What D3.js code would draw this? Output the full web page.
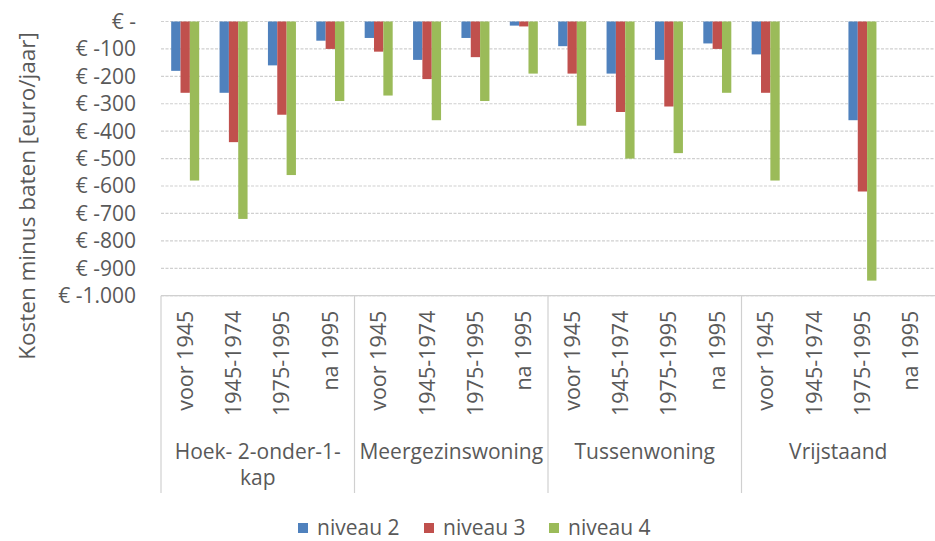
<!DOCTYPE html>
<html><head><meta charset="utf-8">
<script src="https://cdn.jsdelivr.net/npm/d3@7"></script>
<style>body{margin:0;background:#fff}svg{display:block}text{font-family:"Open Sans",sans-serif;fill:#595959}</style>
</head><body><svg id="c" width="935" height="541"></svg>
<script>
const groups = ["Hoek- 2-onder-1-kap", "Meergezinswoning", "Tussenwoning", "Vrijstaand"];
const periods = ["voor 1945", "1945-1974", "1975-1995", "na 1995"];
const seriesNames = ["niveau 2", "niveau 3", "niveau 4"];
const niveau2 = [-180, -260, -160, -70, -60, -140, -60, -15, -90, -190, -140, -80, -120, null, -360, null];
const niveau3 = [-260, -440, -340, -100, -110, -210, -130, -18, -190, -330, -310, -100, -260, null, -620, null];
const niveau4 = [-580, -720, -560, -290, -270, -360, -290, -190, -380, -500, -480, -260, -580, null, -945, null];
const yTicks = [0, -100, -200, -300, -400, -500, -600, -700, -800, -900, -1000];
const colors = ["#4f81bd", "#c0504d", "#9bbb59"];

const svg = d3.select("#c");
const L = 161, R = 935, T = 21.5, B = 295.7;
const keys = [];
groups.forEach((g, gi) => periods.forEach((p, pi) => keys.push({g, p, gi, pi, k: gi + "|" + pi})));
const values = [niveau2, niveau3, niveau4];

const x0 = d3.scaleBand().domain(keys.map(d => d.k)).range([L, R]);
const bw = x0.bandwidth();
const x1 = d3.scaleBand().domain(seriesNames).range([(bw - 28) / 2, (bw + 28) / 2]);
const y = d3.scaleLinear().domain([-1000, 0]).range([B, T]);

// gridlines
svg.append("g").selectAll("line").data(yTicks).join("line")
  .attr("x1", L).attr("x2", R).attr("y1", d => y(d)).attr("y2", d => y(d))
  .attr("stroke", "#d0d0d0").attr("stroke-width", 1.2).attr("stroke-dasharray", "3,1.5");

// y labels
const fmt = d => d === 0 ? "€ -" : "€ -" + d3.format(",")(-d).replace(/,/g, ".");
svg.append("g").selectAll("text").data(yTicks).join("text")
  .attr("x", 136).attr("y", d => y(d)).attr("dy", "0.35em")
  .attr("text-anchor", "end").style("font-size", "21px").text(fmt);

// bars
seriesNames.forEach((s, si) => {
  svg.append("g").selectAll("rect").data(keys.map((k, i) => ({k: k.k, v: values[si][i]})).filter(d => d.v != null))
    .join("rect")
    .attr("x", d => x0(d.k) + x1(s)).attr("width", x1.bandwidth())
    .attr("y", y(0)).attr("height", d => y(d.v) - y(0))
    .attr("fill", colors[si]);
});

// category axis frame
const axisBottom = 493;
svg.append("line").attr("x1", L).attr("x2", R).attr("y1", B).attr("y2", B)
  .attr("stroke", "#d0d0d0").attr("stroke-width", 1.2);
const gw = (R - L) / groups.length;
groups.forEach((g, gi) => {
  const xx = x0(gi + "|0");
  svg.append("line").attr("x1", xx).attr("x2", xx).attr("y1", B).attr("y2", axisBottom)
    .attr("stroke", "#d0d0d0").attr("stroke-width", 1.2);
});

// period labels
svg.append("g").selectAll("text").data(keys).join("text")
  .attr("transform", d => `translate(${x0(d.k) + bw / 2},${B + 15}) rotate(-90)`)
  .attr("dy", "0.35em").attr("text-anchor", "end").style("font-size", "21.5px").text(d => d.p);

// group labels
groups.forEach((g, gi) => {
  const cx = x0(gi + "|0") + gw / 2;
  const lines = g === "Hoek- 2-onder-1-kap" ? ["Hoek- 2-onder-1-", "kap"] : [g];
  lines.forEach((ln, li) => {
    svg.append("text").attr("x", cx).attr("y", 452 + li * 26).attr("dy", "0.35em")
      .attr("text-anchor", "middle").style("font-size", "21px").text(ln);
  });
});

// y title
svg.append("text").attr("transform", "translate(27,196) rotate(-90)")
  .attr("dy", "0.35em").attr("text-anchor", "middle").style("font-size", "22.5px")
  .text("Kosten minus baten [euro/jaar]");

// legend
const legX = [298, 424, 549];
seriesNames.forEach((s, si) => {
  svg.append("rect").attr("x", legX[si]).attr("y", 523).attr("width", 10).attr("height", 10).attr("fill", colors[si]);
  svg.append("text").attr("x", legX[si] + 19).attr("y", 528).attr("dy", "0.35em")
    .style("font-size", "21px").text(s);
});
</script></body></html>
